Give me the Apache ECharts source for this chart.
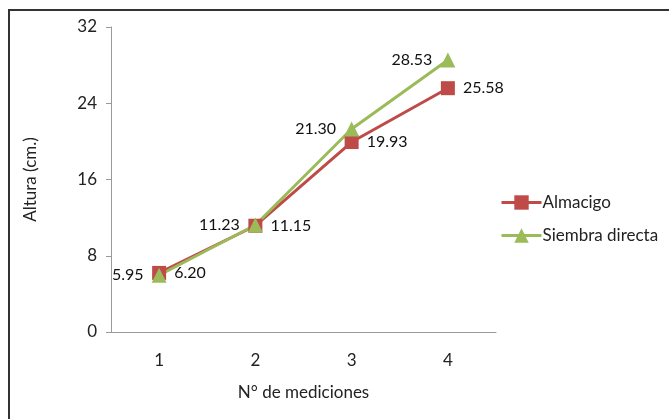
<!DOCTYPE html>
<html>
<head>
<meta charset="utf-8">
<script src="https://cdn.jsdelivr.net/npm/echarts@6/dist/echarts.min.js"></script>
<style>
  html, body { margin: 0; padding: 0; background: #fff; }
  #chart { width: 669px; height: 419px; }
</style>
</head>
<body>
<div id="chart"></div>
<script>
// datos del gráfico
var categorias = ['1', '2', '3', '4']
var almacigo = [6.20, 11.15, 19.93, 25.58]
var siembraDirecta = [5.95, 11.23, 21.30, 28.53]
var ticksY = [0, 8, 16, 24, 32]

var fuente = 'Lato'
var chart = echarts.init(document.getElementById('chart'))

var option = {
  animation: false,
  // marco exterior
  graphic: [
    {
      type: 'rect',
      silent: true,
      shape: { x: 9, y: 10, width: 720, height: 480 },
      style: { fill: 'none', stroke: '#333', lineWidth: 2 },
    },
  ],
  grid: {
    left: 111,
    right: 173,
    top: 27,
    bottom: 87,
  },
  legend: {
    orient: 'vertical',
    left: 495,
    top: 189,
    itemGap: 16,
    itemWidth: 40,
    itemHeight: 18,
    lineStyle: { width: 3 },
    textStyle: { fontFamily: fuente, fontSize: 17, color: '#222', padding: [0, 0, 0, -4] },
    data: ['Almacigo', 'Siembra directa'],
  },
  xAxis: {
    type: 'category',
    data: categorias,
    name: 'N° de mediciones',
    nameLocation: 'middle',
    nameGap: 52,
    nameTextStyle: { fontFamily: fuente, fontSize: 17, color: '#222' },
    axisLine: { lineStyle: { color: '#9a9a9a' } },
    axisTick: { length: 5, lineStyle: { color: '#9a9a9a' } },
    axisLabel: { fontFamily: fuente, fontSize: 17, color: '#222', margin: 20 },
  },
  yAxis: {
    type: 'value',
    min: ticksY[0],
    max: ticksY[ticksY.length - 1],
    interval: 8,
    name: 'Altura (cm.)',
    nameLocation: 'middle',
    nameGap: 72,
    nameTextStyle: { fontFamily: fuente, fontSize: 17, color: '#222' },
    axisLine: { show: true, lineStyle: { color: '#9a9a9a' } },
    axisTick: { show: true, length: 5, lineStyle: { color: '#9a9a9a' } },
    axisLabel: { fontFamily: fuente, fontSize: 17, color: '#222', margin: 14 },
    splitLine: { show: false },
  },
  series: [
    {
      name: 'Almacigo',
      type: 'line',
      data: almacigo,
      symbol: 'rect',
      symbolSize: 14,
      lineStyle: { color: '#BE4B48', width: 3 },
      itemStyle: { color: '#BE4B48' },
      label: {
        show: true,
        position: 'right',
        distance: 8,
        fontFamily: fuente,
        fontSize: 16,
        color: '#111',
        formatter: function(p) { return p.value.toFixed(2) },
      },
    },
    {
      name: 'Siembra directa',
      type: 'line',
      data: siembraDirecta,
      symbol: 'triangle',
      symbolSize: 15,
      lineStyle: { color: '#9BBB59', width: 3 },
      itemStyle: { color: '#9BBB59' },
      label: {
        show: true,
        position: 'left',
        distance: 8,
        fontFamily: fuente,
        fontSize: 16,
        color: '#111',
        formatter: function(p) { return p.value.toFixed(2) },
      },
    },
  ],
}

chart.setOption(option)
</script>
</body>
</html>
